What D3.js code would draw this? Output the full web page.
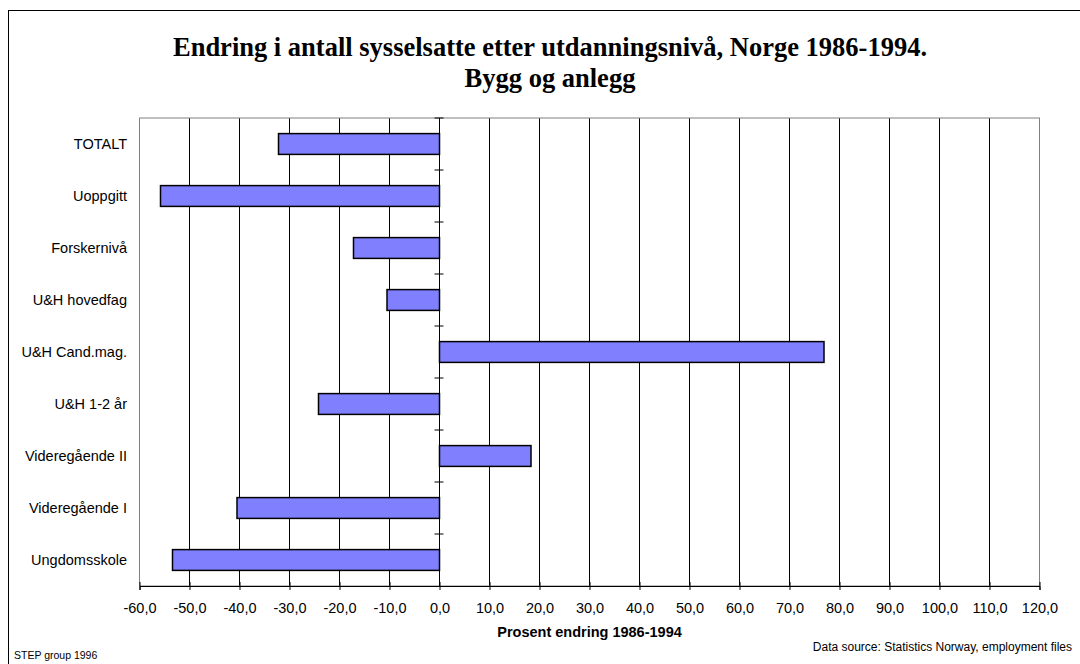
<!DOCTYPE html>
<html>
<head>
<meta charset="utf-8">
<script src="https://cdn.jsdelivr.net/npm/d3@7.9.0/dist/d3.min.js"></script>
<style>
  html, body { margin: 0; padding: 0; background: #fff; }
  svg { display: block; }
  text { font-family: Arial, "Liberation Sans", sans-serif; fill: #000; }
</style>
</head>
<body>
<div id="chart"></div>
<script>
const categories = [
  'TOTALT', 'Uoppgitt', 'Forskernivå', 'U&H hovedfag', 'U&H Cand.mag.',
  'U&H 1-2 år', 'Videregående II', 'Videregående I', 'Ungdomsskole'
];
const changes = [-32.2, -55.8, -17.2, -10.5, 76.9, -24.2, 18.3, -40.5, -53.4];
const xTicks = [-60, -50, -40, -30, -20, -10, 0, 10, 20, 30, 40, 50, 60, 70, 80, 90, 100, 110, 120];
const titleLines = ['Endring i antall sysselsatte etter utdanningsnivå, Norge 1986-1994.', 'Bygg og anlegg'];
const xTitle = 'Prosent endring 1986-1994';
const sourceLeft = 'STEP group 1996';
const sourceRight = 'Data source: Statistics Norway, employment files';

const width = 1080;
const height = 664;
const plot = { left: 139.5, right: 1039.5, top: 118, bottom: 586 };

const data = categories.map((c, i) => ({ cat: c, value: changes[i] }));

const svg = d3.select('#chart').append('svg')
  .attr('width', width)
  .attr('height', height);

// outer frame
svg.append('rect')
  .attr('x', 8.5).attr('y', 10.5)
  .attr('width', width).attr('height', height)
  .attr('fill', 'none').attr('stroke', '#000').attr('stroke-width', 1);

// title
svg.append('g').selectAll('text')
  .data(titleLines)
  .join('text')
  .attr('x', 550)
  .attr('y', (d, i) => 56 + i * 31)
  .attr('text-anchor', 'middle')
  .style('font-family', '"Liberation Serif", "Times New Roman", serif')
  .style('font-weight', 'bold')
  .style('font-size', '26.5px')
  .text(d => d);

const x = d3.scaleLinear()
  .domain([-60, 120])
  .range([plot.left, plot.right]);

const y = d3.scaleBand()
  .domain(categories)
  .range([plot.top, plot.bottom])
  .paddingInner(0.6)
  .paddingOuter(0.3);

const yCell = d3.scaleBand()
  .domain(categories)
  .range([plot.top, plot.bottom]);

// gridlines
svg.append('g')
  .selectAll('line')
  .data(xTicks.filter(t => t > -60 && t < 120))
  .join('line')
  .attr('x1', d => x(d)).attr('x2', d => x(d))
  .attr('y1', plot.top).attr('y2', plot.bottom)
  .attr('stroke', '#000').attr('stroke-width', 1);

// plot border
svg.append('rect')
  .attr('x', plot.left).attr('y', plot.top)
  .attr('width', plot.right - plot.left).attr('height', plot.bottom - plot.top)
  .attr('fill', 'none').attr('stroke', '#808080').attr('stroke-width', 1);

// bars
svg.append('g')
  .selectAll('rect')
  .data(data)
  .join('rect')
  .attr('x', d => x(Math.min(0, d.value)))
  .attr('y', d => y(d.cat))
  .attr('width', d => Math.abs(x(d.value) - x(0)))
  .attr('height', y.bandwidth())
  .attr('fill', '#8080ff')
  .attr('stroke', '#000')
  .attr('stroke-width', 1.5);

// category axis at zero
const zeroX = x(0);
svg.append('line')
  .attr('x1', zeroX).attr('x2', zeroX)
  .attr('y1', plot.top).attr('y2', plot.bottom)
  .attr('stroke', '#000').attr('stroke-width', 1);

svg.append('g')
  .selectAll('line')
  .data(categories)
  .join('line')
  .attr('x1', zeroX - 5).attr('x2', zeroX + 4)
  .attr('y1', d => yCell(d)).attr('y2', d => yCell(d))
  .attr('stroke', '#000').attr('stroke-width', 1);

// category labels
svg.append('g')
  .selectAll('text')
  .data(categories)
  .join('text')
  .attr('x', 127)
  .attr('y', d => y(d) + y.bandwidth() / 2)
  .attr('dy', '0.35em')
  .attr('text-anchor', 'end')
  .style('font-size', '14.5px')
  .text(d => d);

// value axis
const xAxis = svg.append('g')
  .attr('transform', `translate(0,${plot.bottom})`)
  .call(d3.axisBottom(x)
    .tickValues(xTicks)
    .tickSize(4)
    .tickFormat(d => d.toFixed(1).replace('.', ',')));

xAxis.select('.domain').attr('stroke', '#000').attr('stroke-width', 1);
xAxis.selectAll('.tick line').attr('y1', -4).attr('y2', 4).attr('stroke', '#000');
xAxis.selectAll('.tick text')
  .attr('y', 27)
  .attr('dy', 0)
  .style('font-family', 'Arial, "Liberation Sans", sans-serif')
  .style('font-size', '14.5px')
  .attr('fill', '#000');

svg.append('text')
  .attr('x', (plot.left + plot.right) / 2)
  .attr('y', 637)
  .attr('text-anchor', 'middle')
  .style('font-weight', 'bold')
  .style('font-size', '14.5px')
  .text(xTitle);

svg.append('text')
  .attr('x', 14).attr('y', 659)
  .style('font-size', '10.5px')
  .text(sourceLeft);

svg.append('text')
  .attr('x', 1072).attr('y', 651)
  .attr('text-anchor', 'end')
  .style('font-size', '12px')
  .text(sourceRight);
</script>
</body>
</html>
